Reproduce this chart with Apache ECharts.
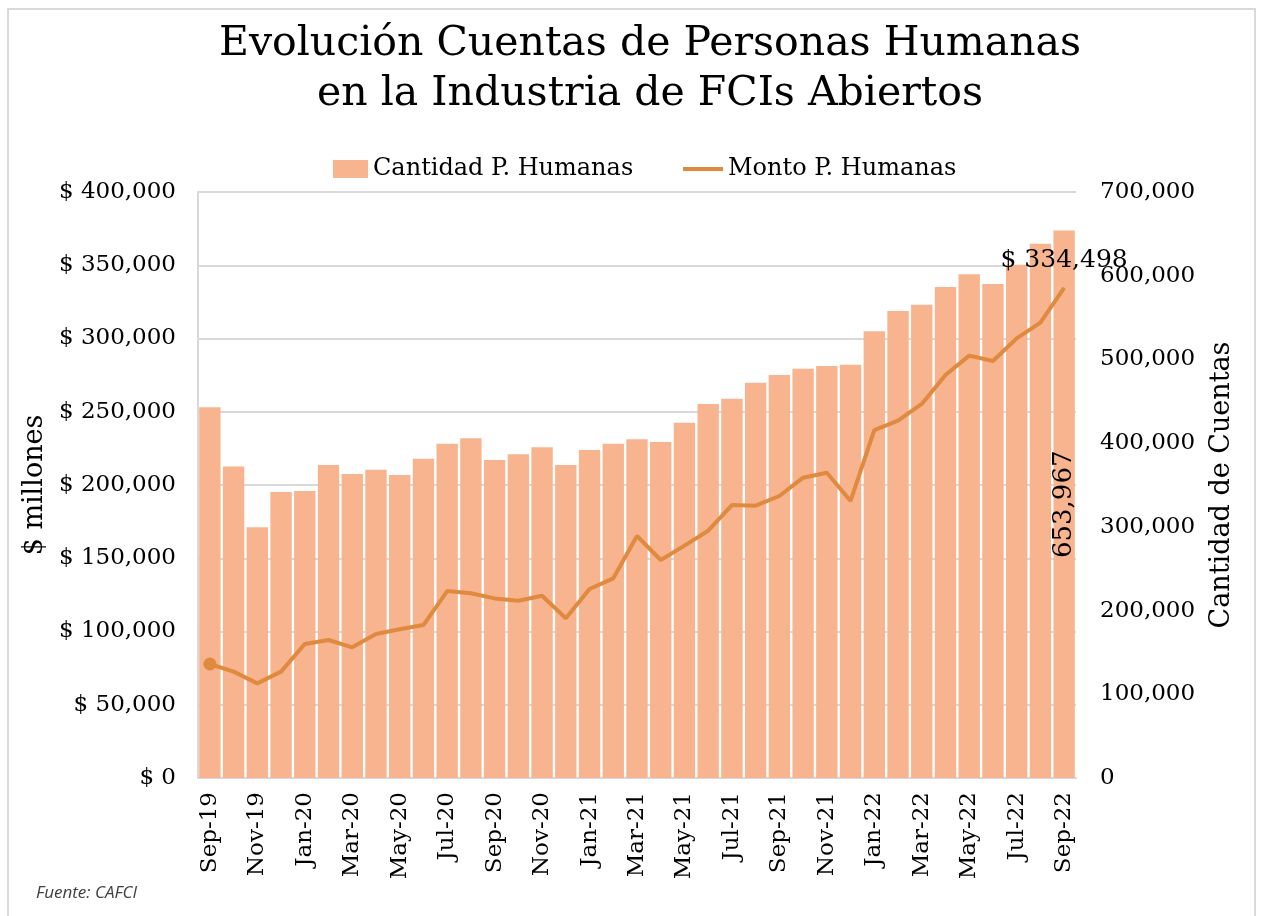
<!DOCTYPE html>
<html>
<head>
<meta charset="utf-8">
<script src="https://cdn.jsdelivr.net/npm/echarts@6/dist/echarts.min.js"></script>
<style>
  html, body { margin: 0; padding: 0; background: #fff; }
  #chart { width: 1263px; height: 916px; }
</style>
</head>
<body>
<div id="chart"></div>
<script>
// meses
const meses = ['Sep-19', 'Oct-19', 'Nov-19', 'Dec-19', 'Jan-20', 'Feb-20', 'Mar-20', 'Apr-20', 'May-20', 'Jun-20',
  'Jul-20', 'Aug-20', 'Sep-20', 'Oct-20', 'Nov-20', 'Dec-20', 'Jan-21', 'Feb-21', 'Mar-21', 'Apr-21',
  'May-21', 'Jun-21', 'Jul-21', 'Aug-21', 'Sep-21', 'Oct-21', 'Nov-21', 'Dec-21', 'Jan-22', 'Feb-22',
  'Mar-22', 'Apr-22', 'May-22', 'Jun-22', 'Jul-22', 'Aug-22', 'Sep-22']

// cantidad de cuentas (eje derecho)
const cantidad = [443000, 372000, 299500, 341600, 342800, 373900, 363100, 368300, 362000, 381400,
  399300, 405800, 379900, 386700, 395000, 373900, 391800, 399300, 404600, 401400,
  424400, 446800, 453100, 472200, 481400, 488900, 492200, 493700, 533600, 557800,
  565400, 586500, 601700, 590100, 613000, 638200, 653967]

// monto en $ millones (eje izquierdo)
const monto = [77800, 72600, 64600, 72600, 91500, 94200, 89200, 98300, 101500, 104400,
  127600, 126100, 122600, 121000, 124400, 109000, 129000, 136300, 165200, 148800,
  158600, 168800, 186300, 185900, 192500, 205000, 208400, 189100, 237500, 243900,
  255300, 275100, 288300, 284600, 300100, 310800, 334498]

const serif = 'DejaVu Serif'
const barColor = '#F7B48E'
const lineColor = '#DF8A3F'

function miles(v) {
  return String(v).replace(/\B(?=(\d{3})+(?!\d))/g, ',')
}

const chart = echarts.init(document.getElementById('chart'))

const last = meses.length - 1

chart.setOption({
  backgroundColor: '#FFFFFF',
  animation: false,
  textStyle: { fontFamily: serif, color: '#000' },
  title: [{
    text: 'Evolución Cuentas de Personas Humanas\nen la Industria de FCIs Abiertos',
    left: 645,
    top: 14,
    textAlign: 'center',
    textStyle: { fontFamily: serif, fontSize: 41, fontWeight: 'normal', lineHeight: 50, color: '#000' }
  }, {
    text: 'Fuente: CAFCI',
    left: 31,
    top: 880,
    textStyle: { fontFamily: 'Open Sans', fontStyle: 'italic', fontSize: 17, fontWeight: 'normal', color: '#404040' }
  }],
  legend: [{
    top: 152,
    left: 328,
    itemWidth: 35,
    itemHeight: 18,
    textStyle: { fontFamily: serif, fontSize: 24, color: '#000' },
    data: [{ name: 'Cantidad P. Humanas', icon: 'rect' }]
  }, {
    top: 152,
    left: 678,
    itemWidth: 40,
    itemHeight: 4,
    textStyle: { fontFamily: serif, fontSize: 24, color: '#000' },
    data: [{ name: 'Monto P. Humanas', icon: 'rect' }]
  }],
  graphic: [{
    type: 'rect',
    shape: { x: 8, y: 9, width: 1247, height: 920 },
    style: { fill: 'none', stroke: '#d9d9d9', lineWidth: 2 },
    silent: true
  }],
  grid: {
    left: 198,
    right: 187,
    top: 192,
    bottom: 138
  },
  xAxis: {
    type: 'category',
    data: meses,
    axisLine: { lineStyle: { color: '#d9d9d9', width: 2 } },
    axisTick: { interval: 0, length: 8, lineStyle: { color: '#d9d9d9', width: 2 } },
    axisLabel: {
      interval: 1,
      rotate: 90,
      fontFamily: serif,
      fontSize: 23,
      color: '#000',
      margin: 14
    }
  },
  yAxis: [{
    type: 'value',
    min: 0,
    max: 400000,
    interval: 50000,
    name: '$ millones',
    nameLocation: 'middle',
    nameRotate: 90,
    nameGap: 150,
    nameTextStyle: { fontFamily: serif, fontSize: 27, color: '#000' },
    axisLine: { show: true, lineStyle: { color: '#d9d9d9', width: 2 } },
    axisTick: { show: false },
    axisLabel: {
      fontFamily: serif,
      fontSize: 23,
      color: '#000',
      margin: 22,
      formatter: v => '$ ' + miles(v)
    },
    splitLine: { lineStyle: { color: '#d9d9d9', width: 2 } }
  }, {
    type: 'value',
    min: 0,
    max: 700000,
    interval: 100000,
    position: 'right',
    name: 'Cantidad de Cuentas',
    nameLocation: 'middle',
    nameRotate: 90,
    nameGap: 132,
    nameTextStyle: { fontFamily: serif, fontSize: 27, color: '#000' },
    axisLine: { show: false },
    axisTick: { show: false },
    axisLabel: {
      fontFamily: serif,
      fontSize: 23,
      color: '#000',
      margin: 24,
      formatter: v => miles(v)
    },
    splitLine: { show: false }
  }],
  series: [{
    name: 'Cantidad P. Humanas',
    type: 'bar',
    yAxisIndex: 1,
    barCategoryGap: '10%',
    itemStyle: { color: barColor },
    data: cantidad.map((v, i) => i === last ? {
      value: v,
      label: {
        show: true,
        position: 'inside',
        rotate: 90,
        fontFamily: serif,
        fontSize: 26,
        color: '#000',
        formatter: p => miles(p.value)
      }
    } : v)
  }, {
    name: 'Monto P. Humanas',
    type: 'line',
    yAxisIndex: 0,
    symbol: 'none',
    showAllSymbol: true,
    lineStyle: { color: lineColor, width: 4 },
    itemStyle: { color: lineColor },
    data: monto.map((v, i) => {
      if (i === 0) return { value: v, symbol: 'circle', symbolSize: 13 }
      if (i === last) {
        return {
          value: v,
          symbol: 'circle',
          symbolSize: 1,
          label: {
            show: true,
            position: 'top',
            distance: 14,
            fontFamily: serif,
            fontSize: 25,
            color: '#000',
            formatter: p => '$ ' + miles(p.value)
          }
        }
      }
      return v
    })
  }]
})
</script>
</body>
</html>
